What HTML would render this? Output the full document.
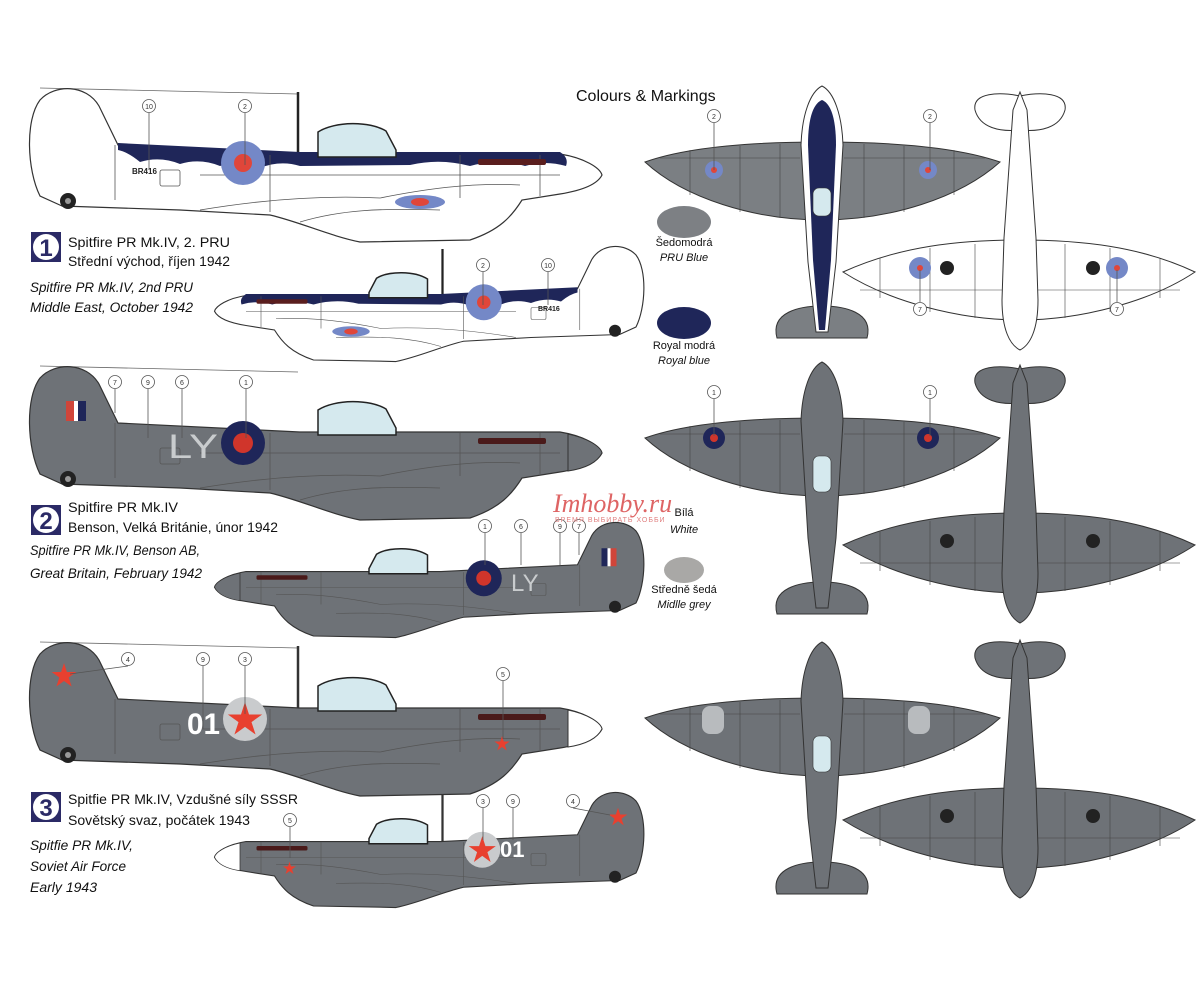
<!DOCTYPE html>
<html><head><meta charset="utf-8"><style>
html,body{margin:0;padding:0;background:#fff;}
svg{display:block;font-family:"Liberation Sans",sans-serif;}
</style></head><body>
<svg width="1200" height="982" viewBox="0 0 1200 982" xmlns="http://www.w3.org/2000/svg">
<defs>
<path id="body" d="M62,206 L40,196 C27,170 25,120 40,100 C55,84 86,84 99,106 L118,145 L300,154 L560,154 C585,158 600,168 602,175 C598,183 585,190 560,194 L522,200 C512,216 500,230 470,240 L360,242 C330,236 300,222 270,215 L180,210 Z"/>
<path id="canopy" d="M318,157 L318,132 C335,121 370,121 386,131 L396,150 L396,157 Z"/>
<path id="spin" d="M568,156 C588,160 601,169 602,175 C598,183 588,190 568,193 Z"/>
<path id="star" d="M0,-1 L0.223,-0.307 L0.951,-0.309 L0.361,0.117 L0.588,0.809 L0,0.38 L-0.588,0.809 L-0.361,0.117 L-0.951,-0.309 L-0.223,-0.307 Z"/>
<g id="details" fill="none" stroke="#555" stroke-width="0.8">
<path d="M200,210 C260,200 320,195 380,198 C420,190 470,182 520,185"/>
<path d="M300,222 C340,210 380,208 440,210"/>
<line x1="200" y1="175" x2="560" y2="175"/>
<line x1="115" y1="145" x2="115" y2="200"/>
<line x1="460" y1="155" x2="460" y2="198"/>
<line x1="540" y1="155" x2="540" y2="196"/>
<line x1="270" y1="155" x2="270" y2="212"/>
<rect x="160" y="170" width="20" height="16" rx="2"/>
</g>
<g id="wlines" fill="none" stroke="#444" stroke-width="0.6">
<line x1="690" y1="150" x2="690" y2="195"/><line x1="740" y1="146" x2="740" y2="212"/><line x1="780" y1="144" x2="780" y2="218"/>
<line x1="864" y1="144" x2="864" y2="218"/><line x1="904" y1="146" x2="904" y2="212"/><line x1="954" y1="150" x2="954" y2="195"/>
<path d="M660,158 L800,158 M844,158 L985,158"/>
</g>
<path id="wing" d="M645,162 C690,146 760,142 822,142 C884,142 954,146 1000,162 C960,198 890,220 822,220 C754,220 684,198 645,162 Z"/>
<path id="fus" d="M822,86 C834,92 842,115 843,145 L836,262 L828,332 L816,332 L808,262 L801,145 C802,115 810,92 822,86 Z"/>
<path id="tailp" d="M777,338 C770,312 800,306 822,306 C844,306 874,312 867,338 Z"/>
<path id="uwing" d="M843,272 C900,246 960,240 1020,240 C1080,240 1140,246 1195,272 C1150,302 1080,320 1020,320 C960,320 890,302 843,272 Z"/>
<path id="ufus" d="M1020,92 L1027,110 L1036,238 L1038,300 C1038,330 1030,345 1020,350 C1010,345 1002,330 1002,300 L1004,238 L1013,110 Z"/>
<path id="utail" d="M975,110 C972,92 1000,92 1020,96 C1040,92 1068,92 1065,110 C1060,128 1040,132 1020,130 C1000,132 980,128 975,110 Z"/>
<g id="ulines" fill="none" stroke="#444" stroke-width="0.6">
<line x1="880" y1="258" x2="880" y2="298"/><line x1="930" y1="248" x2="930" y2="312"/><line x1="975" y1="244" x2="975" y2="318"/>
<line x1="1065" y1="244" x2="1065" y2="318"/><line x1="1110" y1="248" x2="1110" y2="312"/><line x1="1160" y1="258" x2="1160" y2="298"/>
<path d="M860,290 L1180,290"/>
</g>
</defs>

<text x="576" y="101" font-size="16" fill="#111">Colours &amp; Markings</text>

<!-- ===== Aircraft 1 big side ===== -->
<line x1="40" y1="88" x2="298" y2="94" stroke="#666" stroke-width="0.8"/>
<line x1="298" y1="92" x2="298" y2="155" stroke="#222" stroke-width="2.5"/>
<use href="#body" fill="#fff" stroke="#333" stroke-width="1.2"/>
<path d="M118,143 L300,152 L560,152 C566,156 568,160 566,166 Q545,160 525,166 Q500,158 470,166 Q440,158 410,165 L300,166 Q280,160 260,168 Q240,160 220,166 Q200,158 180,164 Q160,156 140,162 Q128,152 118,150 Z" fill="#1f2659"/>
<use href="#canopy" fill="#d5e9ee" stroke="#222" stroke-width="1.5"/>
<use href="#details"/>
<circle cx="243" cy="163" r="22" fill="#7488c7"/><circle cx="243" cy="163" r="9" fill="#e0463a"/>
<ellipse cx="420" cy="202" rx="25" ry="7" fill="#7488c7"/><ellipse cx="420" cy="202" rx="9" ry="4" fill="#e0463a"/>
<rect x="478" y="159" width="68" height="6" rx="2" fill="#5a1e1e"/>
<text x="132" y="174" font-size="8" font-weight="bold" fill="#222">BR416</text>
<circle cx="68" cy="201" r="8" fill="#222"/><circle cx="68" cy="201" r="3" fill="#999"/>
<g stroke="#555" stroke-width="0.8" fill="#fff"><line x1="149" y1="113" x2="149" y2="170"/><circle cx="149" cy="106" r="6.5"/><line x1="245" y1="113" x2="245" y2="165"/><circle cx="245" cy="106" r="6.5"/></g>
<g font-size="7" text-anchor="middle" fill="#333"><text x="149" y="109">10</text><text x="245" y="109">2</text></g>

<!-- Aircraft 1 small side (mirrored) -->
<g transform="translate(666,180) scale(-0.75,0.75)">
<line x1="298" y1="92" x2="298" y2="155" stroke="#222" stroke-width="3"/>
<use href="#body" fill="#fff" stroke="#333" stroke-width="1.5"/>
<path d="M118,143 L300,152 L560,152 C566,156 568,160 566,166 Q545,160 525,166 Q500,158 470,166 Q440,158 410,165 L300,166 Q280,160 260,168 Q240,160 220,166 Q200,158 180,164 Q160,156 140,162 Q128,152 118,150 Z" fill="#1f2659"/>
<use href="#canopy" fill="#d5e9ee" stroke="#222" stroke-width="2"/>
<use href="#details"/>
<circle cx="243" cy="163" r="24" fill="#7488c7"/><circle cx="243" cy="163" r="9" fill="#e0463a"/>
<ellipse cx="420" cy="202" rx="25" ry="7" fill="#7488c7"/><ellipse cx="420" cy="202" rx="9" ry="4" fill="#e0463a"/>
<rect x="478" y="159" width="68" height="6" rx="2" fill="#5a1e1e"/>
<circle cx="68" cy="201" r="8" fill="#222"/>
</g>
<text x="538" y="311" font-size="7" font-weight="bold" fill="#222">BR416</text>
<g stroke="#555" stroke-width="0.8" fill="#fff"><line x1="483" y1="272" x2="483" y2="305"/><circle cx="483" cy="265" r="6.5"/><line x1="548" y1="272" x2="548" y2="305"/><circle cx="548" cy="265" r="6.5"/></g>
<g font-size="7" text-anchor="middle" fill="#333"><text x="483" y="268">2</text><text x="548" y="268">10</text></g>

<!-- Text block 1 -->
<rect x="31" y="232" width="30" height="30" fill="#2b2a66"/><circle cx="46" cy="247" r="13" fill="#fff"/><text x="46" y="256" font-size="24" font-weight="bold" text-anchor="middle" fill="#2b2a66">1</text>
<g font-size="14" fill="#111">
<text x="68" y="247" textLength="162" lengthAdjust="spacingAndGlyphs">Spitfire PR Mk.IV, 2. PRU</text>
<text x="68" y="266" textLength="162" lengthAdjust="spacingAndGlyphs">Střední východ, říjen 1942</text>
<text x="30" y="292" font-style="italic" textLength="163" lengthAdjust="spacingAndGlyphs">Spitfire PR Mk.IV, 2nd PRU</text>
<text x="30" y="312" font-style="italic" textLength="163" lengthAdjust="spacingAndGlyphs">Middle East, October 1942</text>
</g>

<!-- ===== Aircraft 2 big side ===== -->
<g transform="translate(0,278)">
<line x1="40" y1="88" x2="298" y2="94" stroke="#666" stroke-width="0.8"/>
<use href="#body" fill="#6e7277" stroke="#333" stroke-width="1.2"/>
<use href="#spin" fill="#6e7277" stroke="#333"/>
<use href="#canopy" fill="#d5e9ee" stroke="#222" stroke-width="1.5"/>
<use href="#details" stroke="#3c3f43"/>
<rect x="66" y="123" width="8" height="20" fill="#d0453a"/><rect x="74" y="123" width="4" height="20" fill="#fff"/><rect x="78" y="123" width="8" height="20" fill="#1f2659"/>
<circle cx="243" cy="165" r="22" fill="#1f2659"/><circle cx="243" cy="165" r="10" fill="#d0352b"/>
<rect x="478" y="160" width="68" height="6" rx="2" fill="#4a1a1a"/>
<text x="168" y="180" font-size="34" fill="#c9ccce" textLength="50" lengthAdjust="spacingAndGlyphs">LY</text>
<circle cx="68" cy="201" r="8" fill="#222"/><circle cx="68" cy="201" r="3" fill="#999"/>
<g stroke="#555" stroke-width="0.8" fill="#fff"><line x1="115" y1="111" x2="115" y2="135"/><circle cx="115" cy="104" r="6.5"/><line x1="148" y1="111" x2="148" y2="160"/><circle cx="148" cy="104" r="6.5"/><line x1="182" y1="111" x2="182" y2="160"/><circle cx="182" cy="104" r="6.5"/><line x1="246" y1="111" x2="246" y2="160"/><circle cx="246" cy="104" r="6.5"/></g>
<g font-size="7" text-anchor="middle" fill="#333"><text x="115" y="107">7</text><text x="148" y="107">9</text><text x="182" y="107">6</text><text x="246" y="107">1</text></g>
</g>
<!-- Aircraft 2 small -->
<g transform="translate(666,456) scale(-0.75,0.75)">
<use href="#body" fill="#6e7277" stroke="#333" stroke-width="1.5"/>
<use href="#spin" fill="#6e7277" stroke="#333"/>
<use href="#canopy" fill="#d5e9ee" stroke="#222" stroke-width="2"/>
<use href="#details" stroke="#3c3f43"/>
<rect x="66" y="123" width="8" height="24" fill="#d0453a"/><rect x="74" y="123" width="4" height="24" fill="#fff"/><rect x="78" y="123" width="8" height="24" fill="#1f2659"/>
<circle cx="243" cy="163" r="24" fill="#1f2659"/><circle cx="243" cy="163" r="10" fill="#d0352b"/>
<rect x="478" y="159" width="68" height="6" rx="2" fill="#4a1a1a"/>
<circle cx="68" cy="201" r="8" fill="#222"/>
</g>
<text x="511" y="591" font-size="24" fill="#c9ccce">LY</text>
<g stroke="#555" stroke-width="0.8" fill="#fff"><line x1="485" y1="533" x2="485" y2="565"/><circle cx="485" cy="526" r="6.5"/><line x1="521" y1="533" x2="521" y2="565"/><circle cx="521" cy="526" r="6.5"/><line x1="560" y1="533" x2="560" y2="565"/><circle cx="560" cy="526" r="6.5"/><line x1="579" y1="533" x2="579" y2="555"/><circle cx="579" cy="526" r="6.5"/></g>
<g font-size="7" text-anchor="middle" fill="#333"><text x="485" y="529">1</text><text x="521" y="529">6</text><text x="560" y="529">9</text><text x="579" y="529">7</text></g>

<!-- Text block 2 -->
<rect x="31" y="505" width="30" height="30" fill="#2b2a66"/><circle cx="46" cy="520" r="13" fill="#fff"/><text x="46" y="529" font-size="24" font-weight="bold" text-anchor="middle" fill="#2b2a66">2</text>
<g font-size="14" fill="#111">
<text x="68" y="512" textLength="110" lengthAdjust="spacingAndGlyphs">Spitfire PR Mk.IV</text>
<text x="68" y="532" textLength="210" lengthAdjust="spacingAndGlyphs">Benson, Velká Británie, únor 1942</text>
<text x="30" y="555" font-style="italic" textLength="170" lengthAdjust="spacingAndGlyphs">Spitfire PR Mk.IV, Benson AB,</text>
<text x="30" y="578" font-style="italic" textLength="172" lengthAdjust="spacingAndGlyphs">Great Britain, February 1942</text>
</g>

<!-- ===== Aircraft 3 big side ===== -->
<g transform="translate(0,554)">
<line x1="40" y1="88" x2="298" y2="94" stroke="#666" stroke-width="0.8"/>
<line x1="298" y1="92" x2="298" y2="155" stroke="#333" stroke-width="2.5"/>
<use href="#body" fill="#6e7277" stroke="#333" stroke-width="1.2"/>
<use href="#spin" fill="#fff" stroke="#333"/>
<use href="#canopy" fill="#d5e9ee" stroke="#222" stroke-width="1.5"/>
<use href="#details" stroke="#3c3f43"/>
<use href="#star" transform="translate(64,122) scale(13)" fill="#e8402f"/>
<circle cx="245" cy="165" r="22" fill="#c9cbcd"/>
<use href="#star" transform="translate(245,166) scale(18)" fill="#e8402f"/>
<text x="187" y="180" font-size="30" font-weight="bold" fill="#fff" textLength="33" lengthAdjust="spacingAndGlyphs">01</text>
<rect x="478" y="160" width="68" height="6" rx="2" fill="#4a1a1a"/>
<use href="#star" transform="translate(502,190) scale(8)" fill="#e8402f"/>
<circle cx="68" cy="201" r="8" fill="#222"/><circle cx="68" cy="201" r="3" fill="#999"/>
<g stroke="#555" stroke-width="0.8" fill="#fff"><line x1="128" y1="112" x2="70" y2="120"/><circle cx="128" cy="105" r="6.5"/><line x1="203" y1="112" x2="203" y2="175"/><circle cx="203" cy="105" r="6.5"/><line x1="245" y1="112" x2="245" y2="160"/><circle cx="245" cy="105" r="6.5"/><line x1="503" y1="127" x2="503" y2="185"/><circle cx="503" cy="120" r="6.5"/></g>
<g font-size="7" text-anchor="middle" fill="#333"><text x="128" y="108">4</text><text x="203" y="108">9</text><text x="245" y="108">3</text><text x="503" y="123">5</text></g>
</g>
<!-- Aircraft 3 small -->
<g transform="translate(666,726) scale(-0.75,0.75)">
<line x1="298" y1="92" x2="298" y2="155" stroke="#333" stroke-width="3"/>
<use href="#body" fill="#6e7277" stroke="#333" stroke-width="1.5"/>
<use href="#spin" fill="#fff" stroke="#333"/>
<use href="#canopy" fill="#d5e9ee" stroke="#222" stroke-width="2"/>
<use href="#details" stroke="#3c3f43"/>
<use href="#star" transform="translate(64,122) scale(13)" fill="#e8402f"/>
<circle cx="245" cy="165" r="24" fill="#c9cbcd"/>
<use href="#star" transform="translate(245,166) scale(19)" fill="#e8402f"/>
<rect x="478" y="160" width="68" height="6" rx="2" fill="#4a1a1a"/>
<use href="#star" transform="translate(502,190) scale(9)" fill="#e8402f"/>
<circle cx="68" cy="201" r="8" fill="#222"/>
</g>
<text x="500" y="857" font-size="22" font-weight="bold" fill="#fff">01</text>
<g stroke="#555" stroke-width="0.8" fill="#fff"><line x1="483" y1="808" x2="483" y2="840"/><circle cx="483" cy="801" r="6.5"/><line x1="513" y1="808" x2="513" y2="840"/><circle cx="513" cy="801" r="6.5"/><line x1="573" y1="808" x2="610" y2="815"/><circle cx="573" cy="801" r="6.5"/><line x1="290" y1="827" x2="290" y2="858"/><circle cx="290" cy="820" r="6.5"/></g>
<g font-size="7" text-anchor="middle" fill="#333"><text x="483" y="804">3</text><text x="513" y="804">9</text><text x="573" y="804">4</text><text x="290" y="823">5</text></g>

<!-- Text block 3 -->
<rect x="31" y="792" width="30" height="30" fill="#2b2a66"/><circle cx="46" cy="807" r="13" fill="#fff"/><text x="46" y="816" font-size="24" font-weight="bold" text-anchor="middle" fill="#2b2a66">3</text>
<g font-size="14" fill="#111">
<text x="68" y="804" textLength="230" lengthAdjust="spacingAndGlyphs">Spitfie PR Mk.IV, Vzdušné síly SSSR</text>
<text x="68" y="825" textLength="182" lengthAdjust="spacingAndGlyphs">Sovětský svaz, počátek 1943</text>
<text x="30" y="850" font-style="italic" textLength="103" lengthAdjust="spacingAndGlyphs">Spitfie PR Mk.IV,</text>
<text x="30" y="871" font-style="italic" textLength="96" lengthAdjust="spacingAndGlyphs">Soviet Air Force</text>
<text x="30" y="892" font-style="italic" textLength="67" lengthAdjust="spacingAndGlyphs">Early 1943</text>
</g>

<!-- ===== Legend ===== -->
<ellipse cx="684" cy="222" rx="27" ry="16" fill="#7d8084"/>
<ellipse cx="684" cy="323" rx="27" ry="16" fill="#1f2659"/>
<ellipse cx="684" cy="570" rx="20" ry="13" fill="#a9a8a6"/>
<g font-size="11" fill="#111" text-anchor="middle">
<text x="684" y="246">Šedomodrá</text><text x="684" y="261" font-style="italic">PRU Blue</text>
<text x="684" y="349">Royal modrá</text><text x="684" y="364" font-style="italic">Royal blue</text>
<text x="684" y="516">Bílá</text><text x="684" y="533" font-style="italic">White</text>
<text x="684" y="593">Středně šedá</text><text x="684" y="608" font-style="italic">Midlle grey</text>
</g>

<!-- ===== Top view 1 ===== -->
<use href="#wing" fill="#7b7f83" stroke="#333"/>
<use href="#wlines"/>
<use href="#tailp" fill="#7b7f83" stroke="#333"/>
<use href="#fus" fill="#fff" stroke="#333"/>
<path d="M822,100 C832,104 836,122 836,145 L831,260 L825,330 L819,330 L813,260 L808,145 C808,122 812,104 822,100 Z" fill="#1f2659"/>
<rect x="813" y="188" width="18" height="28" rx="6" fill="#d5e9ee" stroke="#333" stroke-width="0.6"/>
<circle cx="714" cy="170" r="9" fill="#7488c7"/><circle cx="714" cy="170" r="3" fill="#e0463a"/>
<circle cx="928" cy="170" r="9" fill="#7488c7"/><circle cx="928" cy="170" r="3" fill="#e0463a"/>
<g stroke="#555" stroke-width="0.8" fill="#fff"><line x1="714" y1="123" x2="714" y2="170"/><circle cx="714" cy="116" r="6.5"/><line x1="930" y1="123" x2="930" y2="170"/><circle cx="930" cy="116" r="6.5"/></g>
<g font-size="7" text-anchor="middle" fill="#333"><text x="714" y="119">2</text><text x="930" y="119">2</text></g>
<!-- Underside 1 -->
<use href="#utail" fill="#fff" stroke="#333"/>
<use href="#uwing" fill="#fff" stroke="#333"/>
<use href="#ulines"/>
<use href="#ufus" fill="#fff" stroke="#333"/>
<circle cx="920" cy="268" r="11" fill="#7488c7"/><circle cx="920" cy="268" r="3" fill="#e0463a"/>
<circle cx="1117" cy="268" r="11" fill="#7488c7"/><circle cx="1117" cy="268" r="3" fill="#e0463a"/>
<circle cx="947" cy="268" r="7" fill="#222"/><circle cx="1093" cy="268" r="7" fill="#222"/>
<g stroke="#555" stroke-width="0.8" fill="#fff"><line x1="920" y1="270" x2="920" y2="302"/><circle cx="920" cy="309" r="6.5"/><line x1="1117" y1="270" x2="1117" y2="302"/><circle cx="1117" cy="309" r="6.5"/></g>
<g font-size="7" text-anchor="middle" fill="#333"><text x="920" y="312">7</text><text x="1117" y="312">7</text></g>

<!-- Top view 2 -->
<g transform="translate(0,276)">
<use href="#wing" fill="#6e7277" stroke="#333"/>
<use href="#wlines"/>
<use href="#tailp" fill="#6e7277" stroke="#333"/>
<use href="#fus" fill="#6e7277" stroke="#333"/>
<rect x="813" y="180" width="18" height="36" rx="6" fill="#d5e9ee" stroke="#333" stroke-width="0.6"/>
<circle cx="714" cy="162" r="11" fill="#1f2659"/><circle cx="714" cy="162" r="4" fill="#d0352b"/>
<circle cx="928" cy="162" r="11" fill="#1f2659"/><circle cx="928" cy="162" r="4" fill="#d0352b"/>
<g stroke="#555" stroke-width="0.8" fill="#fff"><line x1="714" y1="123" x2="714" y2="160"/><circle cx="714" cy="116" r="6.5"/><line x1="930" y1="123" x2="930" y2="160"/><circle cx="930" cy="116" r="6.5"/></g>
<g font-size="7" text-anchor="middle" fill="#333"><text x="714" y="119">1</text><text x="930" y="119">1</text></g>
</g>
<g transform="translate(0,273)">
<use href="#utail" fill="#6e7277" stroke="#333"/>
<use href="#uwing" fill="#6e7277" stroke="#333"/>
<use href="#ulines"/>
<use href="#ufus" fill="#6e7277" stroke="#333"/>
<circle cx="947" cy="268" r="7" fill="#222"/><circle cx="1093" cy="268" r="7" fill="#222"/>
</g>

<!-- Top view 3 -->
<g transform="translate(0,556)">
<use href="#wing" fill="#6e7277" stroke="#333"/>
<use href="#wlines"/>
<use href="#tailp" fill="#6e7277" stroke="#333"/>
<use href="#fus" fill="#6e7277" stroke="#333"/>
<rect x="813" y="180" width="18" height="36" rx="6" fill="#d5e9ee" stroke="#333" stroke-width="0.6"/>
<rect x="702" y="150" width="22" height="28" rx="8" fill="#b8bbbe"/>
<rect x="908" y="150" width="22" height="28" rx="8" fill="#b8bbbe"/>
</g>
<g transform="translate(0,548)">
<use href="#utail" fill="#6e7277" stroke="#333"/>
<use href="#uwing" fill="#6e7277" stroke="#333"/>
<use href="#ulines"/>
<use href="#ufus" fill="#6e7277" stroke="#333"/>
<circle cx="947" cy="268" r="7" fill="#222"/><circle cx="1093" cy="268" r="7" fill="#222"/>
</g>

<!-- watermark -->
<text x="553" y="512" font-size="26" font-style="italic" font-family="Liberation Serif,serif" fill="#d94a4a" opacity="0.85">Imhobby.ru</text>
<text x="555" y="522" font-size="7" fill="#e08080" letter-spacing="1">ВРЕМЯ ВЫБИРАТЬ ХОББИ</text>
</svg>
</body></html>
